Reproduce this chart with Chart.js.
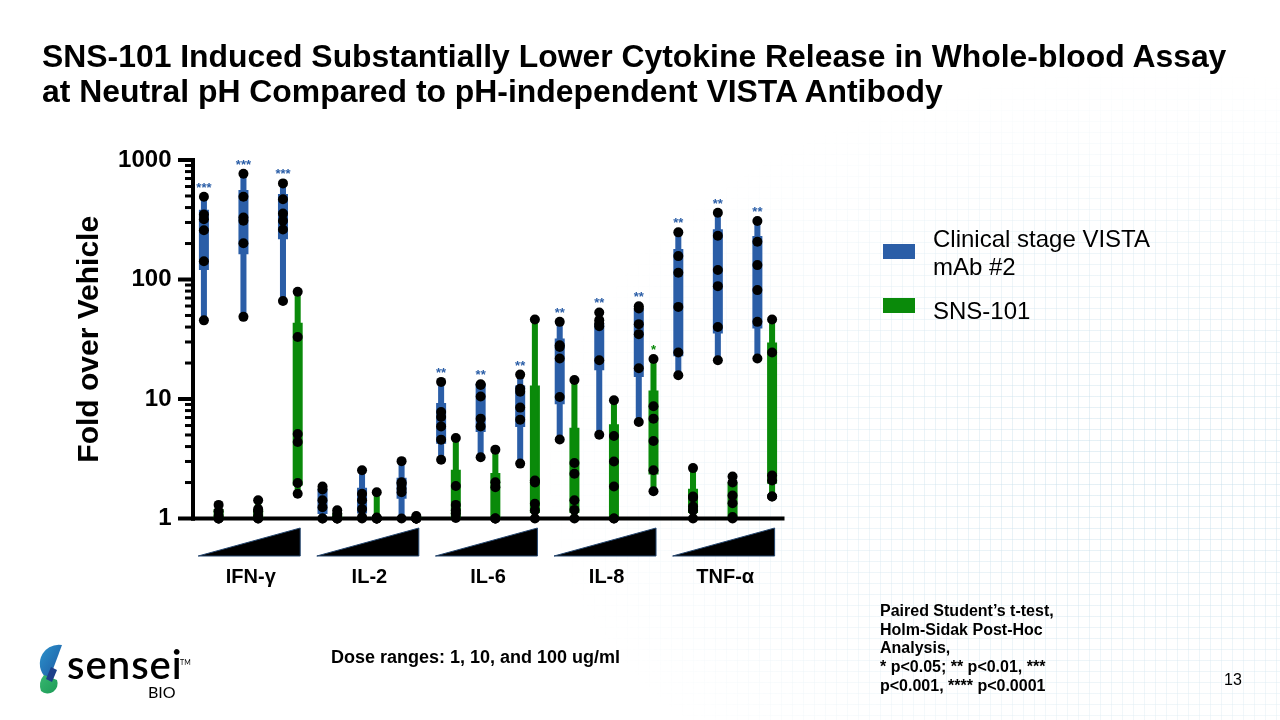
<!DOCTYPE html>
<html>
<head>
<meta charset="utf-8">
<script src="https://cdn.jsdelivr.net/npm/chart.js@4.4.0/dist/chart.umd.min.js"></script>
<style>
html,body{margin:0;padding:0;width:1280px;height:720px;overflow:hidden;background:#fff;font-family:"Liberation Sans",Arial,sans-serif;color:#000;}
#bg{position:absolute;left:0;top:0;width:1280px;height:720px;
 background-image:linear-gradient(to right, rgba(185,215,230,0.45) 1px, transparent 1px),linear-gradient(to bottom, rgba(185,215,230,0.45) 1px, transparent 1px);
 background-size:11px 11px;
 -webkit-mask-image: radial-gradient(ellipse 60% 70% at 90% 65%, rgba(0,0,0,0.9) 0%, rgba(0,0,0,0.5) 45%, rgba(0,0,0,0) 80%);
 mask-image: radial-gradient(ellipse 60% 70% at 90% 65%, rgba(0,0,0,0.9) 0%, rgba(0,0,0,0.5) 45%, rgba(0,0,0,0) 80%);}
#c{position:absolute;left:0;top:0;}
.title{position:absolute;left:42px;top:39px;font-weight:bold;font-size:31.9px;line-height:35px;white-space:nowrap;}
#legend{position:absolute;left:883px;top:225px;}
.lg-item{position:absolute;left:0;white-space:nowrap;font-size:24px;line-height:28px;}
.lg-box{position:absolute;left:0;width:32px;height:15px;}
.lg-text{position:absolute;left:50px;top:0;}
.dose{position:absolute;left:331px;top:647px;font-weight:bold;font-size:18px;line-height:20px;white-space:nowrap;}
.stats{position:absolute;left:880px;top:602px;font-weight:bold;font-size:16px;line-height:18.7px;white-space:nowrap;}
.page{position:absolute;left:1224px;top:671px;font-size:16px;line-height:18px;}
.logo-text{position:absolute;left:67px;top:640px;font-family:Lato,"Open Sans",sans-serif;font-weight:600;font-size:40px;line-height:48px;letter-spacing:1px;}
.logo-bio{position:absolute;left:148px;top:683px;font-family:Lato,"Open Sans",sans-serif;font-size:16px;line-height:18px;}
.logo-tm{position:absolute;left:180px;top:658px;font-family:Lato,sans-serif;font-size:7px;line-height:8px;}
</style>
</head>
<body>
<div id="bg"></div>
<canvas id="c" width="1280" height="720"></canvas>
<div class="title">SNS-101 Induced Substantially Lower Cytokine Release in Whole-blood Assay<br>at Neutral pH Compared to pH-independent VISTA Antibody</div>
<div id="legend"></div>
<div class="dose">Dose ranges: 1, 10, and 100 ug/ml</div>
<div class="stats">Paired Student’s t-test,<br>Holm-Sidak Post-Hoc<br>Analysis,<br>* p&lt;0.05; ** p&lt;0.01, ***<br>p&lt;0.001, **** p&lt;0.0001</div>
<div class="page">13</div>
<svg style="position:absolute;left:30px;top:640px" width="40" height="60">
 <defs>
  <linearGradient id="lb" x1="0" y1="0" x2="1" y2="1"><stop offset="0" stop-color="#2c93cc"/><stop offset="1" stop-color="#1c56a0"/></linearGradient>
  <linearGradient id="lgr" x1="0" y1="0" x2="1" y2="1"><stop offset="0" stop-color="#37b870"/><stop offset="1" stop-color="#1d9a57"/></linearGradient>
 </defs>
 <path d="M32 5 A19 19 0 0 0 19 40 Z" fill="url(#lb)"/>
 <path d="M14 35 L27 40 A10 10 0 0 1 11 51 Q8 42 14 35 Z" fill="url(#lgr)"/>
 <path d="M21 27 L27 30 L22 42 L16 39 Z" fill="#1d3f8a"/>
</svg>
<div class="logo-text">sensei</div>
<div class="logo-tm">TM</div>
<div class="logo-bio">BIO</div>
<script>
// ---------- data ----------
const cytokines = ['IFN-γ', 'IL-2', 'IL-6', 'IL-8', 'TNF-α'];
const doses = ['1 ug/ml', '10 ug/ml', '100 ug/ml'];
const seriesNames = ['Clinical stage VISTA mAb #2', 'SNS-101'];
const legendLines = [['Clinical stage VISTA', 'mAb #2'], ['SNS-101']];
const seriesColors = ['#2B5EA7', '#0A8A0A'];
const yTicks = [1, 10, 100, 1000];

// individual donor values (fold over vehicle), one list per cytokine/dose
const vistaPoints = [
  [493, 350, 320, 258, 142, 45.5],
  [766, 493, 330, 310, 201, 48.7],
  [637, 470, 356, 310, 262, 66],
  [1.85, 1.75, 1.42, 1.24, 1.0, 1.0],
  [2.53, 1.61, 1.42, 1.2, 1.03, 1.0],
  [3.02, 2.01, 1.95, 1.77, 1.66, 1.0],
  [13.9, 7.78, 7.06, 5.9, 4.57, 3.1],
  [13.3, 13.1, 10.5, 6.85, 5.9, 3.26],
  [16.0, 12.2, 11.5, 8.47, 6.72, 2.88],
  [44.2, 28.2, 27.3, 21.8, 10.4, 4.59],
  [53, 45.7, 42.9, 40.7, 21.1, 5.03],
  [59.8, 57.3, 42.3, 34.9, 18.1, 6.41],
  [248, 157, 114, 59, 24.5, 15.8],
  [362, 232, 120, 88, 40.1, 21.1],
  [309, 207, 132, 81.5, 44.2, 21.8]
];
const vistaBox = [
  [120, 384], [163, 562], [217, 519],
  [1.09, 1.77], [1.1, 1.81], [1.46, 2.19],
  [4.23, 9.25], [5.29, 13.5], [5.83, 13.0],
  [9.03, 32.1], [17.4, 42.9], [15.3, 57],
  [22.8, 180], [35.3, 263], [38.9, 231]
];
const snsPoints = [
  [1.3, 1.15, 1.05, 1.0, 1.0, 1.0],
  [1.42, 1.2, 1.15, 1.05, 1.0, 1.0],
  [78.9, 33, 5.1, 4.37, 1.98, 1.61],
  [1.17, 1.1, 1.02, 1.0, 1.0, 1.0],
  [1.66, 1.02, 1.0, 1.0, 1.0, 1.0],
  [1.05, 1.0, 1.0, 1.0, 1.0, 1.0],
  [4.71, 1.87, 1.3, 1.17, 1.1, 1.01],
  [3.77, 2.01, 1.83, 1.0, 1.0, 1.0],
  [46.3, 2.08, 2.0, 1.33, 1.17, 1.0],
  [14.4, 2.91, 2.37, 1.42, 1.18, 1.0],
  [9.75, 4.9, 3.0, 1.85, 1.0, 1.0],
  [21.6, 8.69, 6.85, 4.45, 2.53, 1.69],
  [2.64, 1.53, 1.5, 1.26, 1.17, 1.0],
  [2.25, 2.0, 1.56, 1.34, 1.03, 1.0],
  [46.3, 24.5, 2.29, 2.08, 1.53, 1.53]
];
const snsBox = [
  [1.0, 1.2], [1.0, 1.2], [1.89, 43.4],
  [1.0, 1.1], [1.0, 1.03], [1.0, 1.05],
  [1.0, 2.56], [1.0, 2.4], [1.11, 13.0],
  [1.11, 5.76], [1.0, 6.14], [2.34, 11.8],
  [1.11, 1.77], [1.03, 2.01], [1.95, 29.7]
];
const vistaStars = ['***', '***', '***', '', '', '', '**', '**', '**', '**', '**', '**', '**', '**', '**'];
const snsStars = ['', '', '', '', '', '', '', '', '', '', '', '*', '', '', ''];

// ---------- derived ----------
const categories = cytokines.flatMap(c => doses.map(d => c + ' ' + d));
const PAIR_OFFSET = 0.186; // half the gap between the paired bars, in category units
const pos = (i, side) => i + side * PAIR_OFFSET;
const ranges = (pts, side) => pts.map((p, i) => ({x: pos(i, side), y: [Math.min(...p), Math.max(...p)]}));
const boxes = (bx, side) => bx.map((b, i) => ({x: pos(i, side), y: b}));
const dots = (pts, side) => pts.flatMap((p, i) => p.map(v => ({x: pos(i, side), y: v})));

// legend (HTML, from series definitions)
const legendEl = document.getElementById('legend');
const legendTops = [0, 72];
const boxTops = [19, 73];
seriesNames.forEach((name, k) => {
  const item = document.createElement('div');
  item.className = 'lg-item';
  item.style.top = legendTops[k] + 'px';
  item.title = name;
  const box = document.createElement('div');
  box.className = 'lg-box';
  box.style.background = seriesColors[k];
  box.style.top = (boxTops[k] - legendTops[k]) + 'px';
  const txt = document.createElement('div');
  txt.className = 'lg-text';
  txt.innerHTML = legendLines[k].join('<br>');
  item.appendChild(box); item.appendChild(txt);
  legendEl.appendChild(item);
});

const decor = {
  id: 'decor',
  beforeDatasetsDraw(chart) {
    const {ctx, chartArea: a, scales: {x, y}} = chart;
    ctx.save();
    ctx.fillStyle = '#000';
    const sx = a.left + 1.5;
    ctx.fillRect(sx - 2, a.top - 2, 4, a.bottom - a.top + 4);
    ctx.fillRect(sx - 2, a.bottom - 2, a.right - sx + 2, 4);
    yTicks.forEach(v => {
      const py = y.getPixelForValue(v);
      ctx.fillRect(sx - 15, py - 2, 17, 4);
    });
    for (let d = 0; d < yTicks.length - 1; d++) {
      for (let m = 2; m < 10; m++) {
        const py = y.getPixelForValue(m * yTicks[d]);
        ctx.fillRect(sx - 8, py - 1.5, 8, 3);
      }
    }
    // dose ramps under each cytokine
    const W = x.getPixelForValue(1) - x.getPixelForValue(0);
    cytokines.forEach((c, g) => {
      const cx = x.getPixelForValue(g * 3 + 1);
      ctx.beginPath();
      ctx.moveTo(cx - 1.33 * W, a.bottom + 37.5);
      ctx.lineTo(cx + 1.25 * W, a.bottom + 37.5);
      ctx.lineTo(cx + 1.25 * W, a.bottom + 9.5);
      ctx.closePath();
      ctx.fillStyle = '#000';
      ctx.fill();
      ctx.strokeStyle = '#24466f';
      ctx.lineWidth = 1;
      ctx.stroke();
    });
    ctx.restore();
  },
  afterDatasetsDraw(chart) {
    const {ctx, scales: {y}} = chart;
    ctx.save();
    ctx.font = 'bold 13px "Liberation Sans", Arial, sans-serif';
    ctx.textAlign = 'center';
    ctx.textBaseline = 'alphabetic';
    const drawStars = (metaIdx, stars, pts, color) => {
      const meta = chart.getDatasetMeta(metaIdx);
      stars.forEach((s, i) => {
        if (!s) return;
        const px = meta.data[i].x;
        const py = y.getPixelForValue(Math.max(...pts[i])) - 12.5;
        ctx.fillStyle = color;
        ctx.fillText(s, px, py + 7.5);
      });
    };
    drawStars(0, vistaStars, vistaPoints, seriesColors[0]);
    drawStars(2, snsStars, snsPoints, seriesColors[1]);
    ctx.restore();
  }
};

const barCommon = {grouped: false, categoryPercentage: 1, borderWidth: 0, order: 1, borderSkipped: false};
const dotCommon = {type: 'scatter', pointRadius: 5, pointHoverRadius: 5,
  backgroundColor: '#000', borderWidth: 0, order: 0, clip: false};

new Chart(document.getElementById('c'), {
  type: 'bar',
  data: {
    labels: categories,
    datasets: [
      {...barCommon, label: seriesNames[0], data: ranges(vistaPoints, -1), backgroundColor: seriesColors[0], barPercentage: 0.41},
      {...barCommon, label: seriesNames[0] + ' (box)', data: boxes(vistaBox, -1), backgroundColor: seriesColors[0], barPercentage: 0.68},
      {...barCommon, label: seriesNames[1], data: ranges(snsPoints, 1), backgroundColor: seriesColors[1], barPercentage: 0.41},
      {...barCommon, label: seriesNames[1] + ' (box)', data: boxes(snsBox, 1), backgroundColor: seriesColors[1], barPercentage: 0.68},
      {...dotCommon, label: seriesNames[0] + ' donors', data: dots(vistaPoints, -1)},
      {...dotCommon, label: seriesNames[1] + ' donors', data: dots(snsPoints, 1)}
    ]
  },
  options: {
    responsive: false,
    animation: false,
    events: [],
    layout: {padding: {left: 60, right: 495.5, top: 160, bottom: 121.5}},
    plugins: {legend: {display: false}, tooltip: {enabled: false}, title: {display: false}},
    scales: {
      x: {
        type: 'linear',
        offset: false, min: -0.5, max: categories.length - 0.5,
        grid: {display: false, drawTicks: false, offset: false},
        border: {display: false},
        afterBuildTicks: s => { s.ticks = categories.map((c, i) => ({value: i})); },
        ticks: {
          autoSkip: false, maxRotation: 0, minRotation: 0, padding: 47,
          color: '#000', font: {family: '"Liberation Sans", Arial, sans-serif', size: 20, weight: 'bold'},
          callback: (v) => (v % 3 === 1 ? cytokines[Math.floor(v / 3)] : '')
        },
        afterFit: s => { s.height = 80; }
      },
      y: {
        type: 'logarithmic', min: 1, max: 1000, stacked: false,
        grid: {display: false, drawTicks: false},
        border: {display: false},
        afterBuildTicks: s => { s.ticks = yTicks.map(v => ({value: v, major: true})); },
        ticks: {
          padding: 20, color: '#000',
          font: {family: '"Liberation Sans", Arial, sans-serif', size: 24, weight: 'bold'},
          callback: v => String(v)
        },
        title: {
          display: true, text: 'Fold over Vehicle', color: '#000',
          font: {family: '"Liberation Sans", Arial, sans-serif', size: 30, weight: 'bold'},
          padding: {top: 12, bottom: 0}
        },
        afterFit: s => { s.width = 131.5; }
      }
    }
  },
  plugins: [decor]
});
</script>
</body>
</html>
